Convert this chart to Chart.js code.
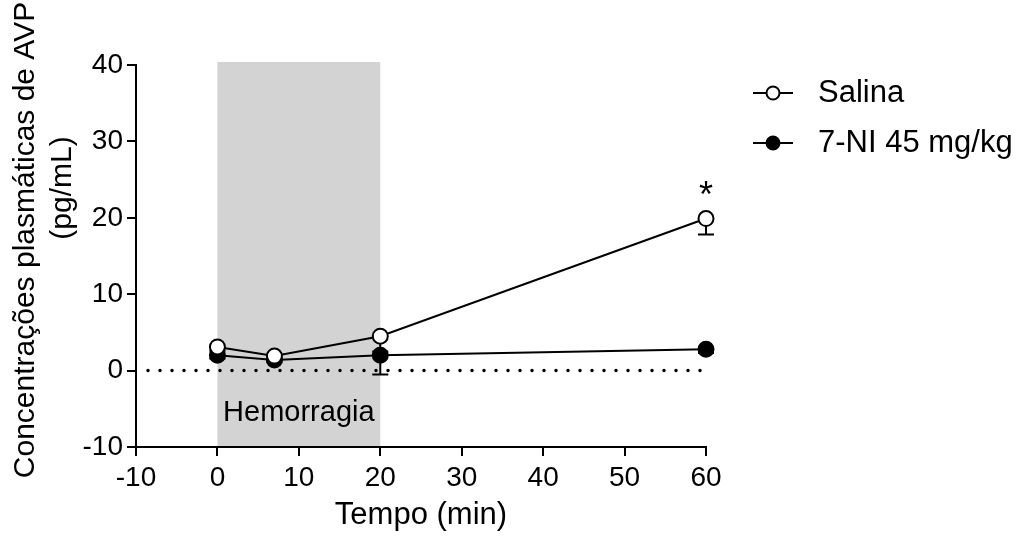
<!DOCTYPE html>
<html>
<head>
<meta charset="utf-8">
<script src="https://cdn.jsdelivr.net/npm/chart.js@4.4.0/dist/chart.umd.min.js"></script>
<style>
  html, body { margin: 0; padding: 0; background: #fff; }
</style>
</head>
<body>
<canvas id="myChart" width="1024" height="537"></canvas>
<script>
// data
const timePoints = [0, 7, 20, 60];
const salinaValues = [3.1, 1.9, 4.5, 19.9];
const salinaErrors = [0.5, 0.4, 2.0, 2.1];
const niValues = [2.0, 1.4, 2.0, 2.8];
const niErrors = [0.4, 0.3, 2.5, 0.5];
const xTicks = [-10, 0, 10, 20, 30, 40, 50, 60];
const yTicks = [-10, 0, 10, 20, 30, 40];
const seriesNames = ['Salina', '7-NI 45 mg/kg'];
const hemorrhageWindow = [0, 20];
const significantIndex = 3;

const FONT = '"Liberation Sans", Arial, sans-serif';

const toPoints = (xs, ys) => xs.map((x, i) => ({ x: x, y: ys[i] }));

// grey box for the hemorrhage period, under the axes
const shadePlugin = {
    id: 'shade',
    beforeDraw(chart) {
        const ctx = chart.ctx;
        const x = chart.scales.x;
        const y = chart.scales.y;
        const left = x.getPixelForValue(hemorrhageWindow[0]);
        const right = x.getPixelForValue(hemorrhageWindow[1]);
        const top = y.getPixelForValue(40) - 3;
        const bottom = y.getPixelForValue(-10);
        ctx.save();
        ctx.fillStyle = '#d3d3d3';
        ctx.fillRect(left, top, right - left, bottom - top);
        ctx.restore();
    }
};

// zero line, error bars and the box label
const extrasPlugin = {
    id: 'extras',
    beforeDatasetsDraw(chart) {
        const ctx = chart.ctx;
        const x = chart.scales.x;
        const y = chart.scales.y;
        ctx.save();

        ctx.fillStyle = '#000';
        ctx.font = '29px ' + FONT;
        ctx.textAlign = 'center';
        ctx.textBaseline = 'middle';
        ctx.fillText('Hemorragia', x.getPixelForValue(10), y.getPixelForValue(-5.6));

        const y0 = y.getPixelForValue(0);
        ctx.strokeStyle = '#000';
        ctx.lineWidth = 3.5;
        ctx.lineCap = 'round';
        ctx.setLineDash([0, 12]);
        ctx.beginPath();
        ctx.moveTo(x.getPixelForValue(-10) + 12, y0);
        ctx.lineTo(x.getPixelForValue(60) + 1, y0);
        ctx.stroke();
        ctx.setLineDash([]);
        ctx.lineCap = 'butt';

        ctx.lineWidth = 2;
        const drawErrors = (values, errors) => {
            timePoints.forEach((t, i) => {
                const px = x.getPixelForValue(t);
                const pTop = y.getPixelForValue(values[i]);
                const pLow = y.getPixelForValue(values[i] - errors[i]);
                ctx.beginPath();
                ctx.moveTo(px, pTop);
                ctx.lineTo(px, pLow);
                ctx.moveTo(px - 8, pLow);
                ctx.lineTo(px + 8, pLow);
                ctx.stroke();
            });
        };
        drawErrors(niValues, niErrors);
        drawErrors(salinaValues, salinaErrors);
        ctx.restore();
    },
    afterDraw(chart) {
        const ctx = chart.ctx;
        const x = chart.scales.x;
        const y = chart.scales.y;
        ctx.save();
        ctx.fillStyle = '#000';

        // significance mark
        ctx.font = '36px ' + FONT;
        ctx.textAlign = 'center';
        ctx.textBaseline = 'alphabetic';
        ctx.fillText('*', x.getPixelForValue(timePoints[significantIndex]),
            y.getPixelForValue(salinaValues[significantIndex]) - 12);

        // y axis title, two lines
        ctx.font = '30px ' + FONT;
        ctx.textBaseline = 'middle';
        ctx.save();
        ctx.translate(26, 240);
        ctx.rotate(-Math.PI / 2);
        ctx.fillText('Concentrações plasmáticas de AVP', 0, 0);
        ctx.restore();
        ctx.save();
        ctx.translate(63, 188);
        ctx.rotate(-Math.PI / 2);
        ctx.fillText('(pg/mL)', 0, 0);
        ctx.restore();

        // legend
        const rows = [93, 143];
        const fills = ['#fff', '#000'];
        ctx.font = '31px ' + FONT;
        ctx.textAlign = 'left';
        rows.forEach((ry, i) => {
            ctx.strokeStyle = '#000';
            ctx.lineWidth = 2;
            ctx.beginPath();
            ctx.moveTo(753, ry);
            ctx.lineTo(793, ry);
            ctx.stroke();
            ctx.beginPath();
            ctx.arc(773, ry, 6.5, 0, Math.PI * 2);
            ctx.fillStyle = fills[i];
            ctx.fill();
            ctx.stroke();
            ctx.fillStyle = '#000';
            ctx.fillText(seriesNames[i], 818, ry);
        });
        ctx.restore();
    }
};

const axisCommon = {
    type: 'linear',
    grid: {
        display: true,
        drawOnChartArea: false,
        drawTicks: true,
        tickLength: 9,
        color: '#000',
        lineWidth: 2
    },
    border: { display: true, color: '#000', width: 2 },
    ticks: {
        color: '#000',
        font: { family: FONT, size: 28 },
        autoSkip: false,
        maxRotation: 0
    }
};

const config = {
    type: 'line',
    data: {
        datasets: [
            {
                label: seriesNames[0],
                data: toPoints(timePoints, salinaValues),
                borderColor: '#000',
                borderWidth: 2,
                pointRadius: 7.5,
                pointBorderWidth: 2,
                pointBackgroundColor: '#fff',
                pointBorderColor: '#000',
                tension: 0,
                clip: false
            },
            {
                label: seriesNames[1],
                data: toPoints(timePoints, niValues),
                borderColor: '#000',
                borderWidth: 2,
                pointRadius: 7.5,
                pointBorderWidth: 2,
                pointBackgroundColor: '#000',
                pointBorderColor: '#000',
                tension: 0,
                clip: false
            }
        ]
    },
    options: {
        responsive: false,
        animation: false,
        devicePixelRatio: 1,
        layout: { padding: { left: 0, right: 318, top: 65, bottom: 0 } },
        plugins: {
            legend: { display: false },
            tooltip: { enabled: false }
        },
        scales: {
            x: {
                ...axisCommon,
                min: -10,
                max: 60,
                afterBuildTicks: s => { s.ticks = xTicks.map(v => ({ value: v })); },
                afterFit: s => { s.height = 90; },
                ticks: { ...axisCommon.ticks, padding: 5 },
                title: {
                    display: true,
                    text: 'Tempo (min)',
                    color: '#000',
                    font: { family: FONT, size: 31 },
                    padding: { top: 0, bottom: 3 }
                }
            },
            y: {
                ...axisCommon,
                min: -10,
                max: 40,
                afterBuildTicks: s => { s.ticks = yTicks.map(v => ({ value: v })); },
                afterFit: s => { s.width = 136; },
                ticks: { ...axisCommon.ticks, padding: 4 }
            }
        }
    },
    plugins: [shadePlugin, extrasPlugin]
};

const ctx = document.getElementById('myChart');
const myChart = new Chart(ctx, config);
</script>
</body>
</html>
